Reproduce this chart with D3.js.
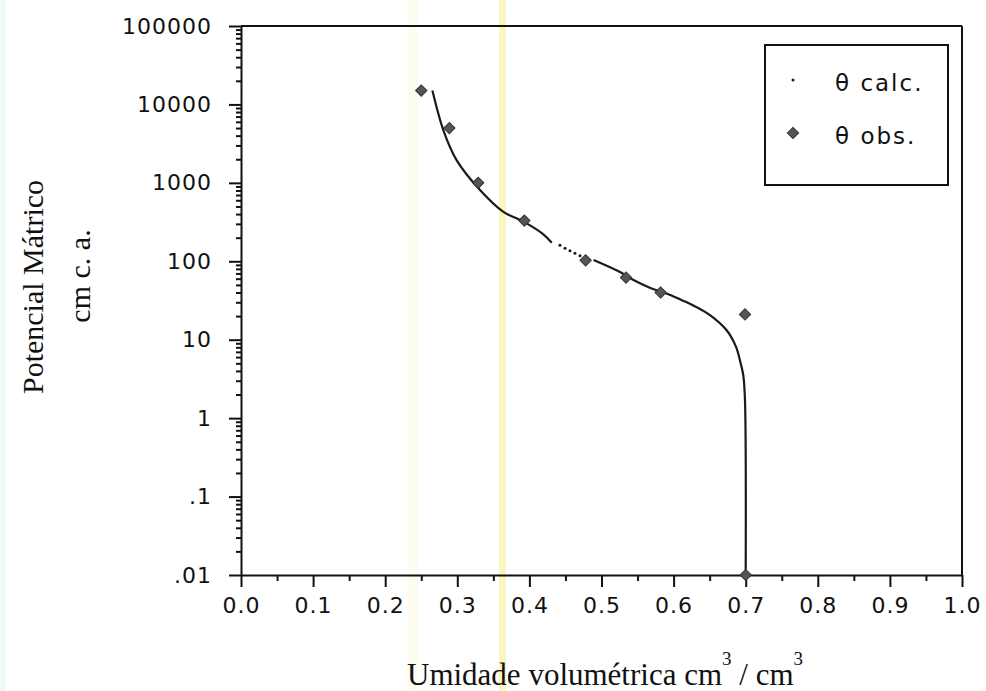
<!DOCTYPE html>
<html>
    <head>
        <meta charset="utf-8">
        <title> Potencial Mátrico </title>
        <script type="text/javascript" src="https://d3js.org/d3.v7.min.js"></script>
        <style>
            body {margin: 0; background: #fff;}
            svg {display: block;}
            .tick text {font-family: "DejaVu Sans", sans-serif; font-size: 22px; letter-spacing: 1px; fill: #111;}
            .domain, .tick line {stroke: #111; stroke-width: 2px;}
            .titre {font-family: "Liberation Serif", serif; fill: #111;}
            .leg {font-family: "DejaVu Sans", sans-serif; font-size: 23px; letter-spacing: 2px; fill: #111;}
        </style>
    </head>
    <body>
        <script>
            // Axes
            var xTickValues = [0, 0.1, 0.2, 0.3, 0.4, 0.5, 0.6, 0.7, 0.8, 0.9, 1.0];
            var xTickLabels = ["0.0", "0.1", "0.2", "0.3", "0.4", "0.5", "0.6", "0.7", "0.8", "0.9", "1.0"];
            var yTickValues = [0.01, 0.1, 1, 10, 100, 1000, 10000, 100000];
            var yTickLabels = [".01", ".1", "1", "10", "100", "1000", "10000", "100000"];

            // θ obs. (points)
            var obsTheta = [0.250, 0.289, 0.329, 0.393, 0.478, 0.534, 0.582, 0.699, 0.700];
            var obsPsi = [15000, 5000, 1000, 330, 103, 62, 40, 21, 0.01];

            // θ calc. : trait continu, puis quelques points isolés, puis trait continu
            var calcThetaA = [0.2655, 0.2806, 0.299, 0.3315, 0.3634, 0.3925, 0.419, 0.431];
            var calcPsiA = [15000, 4710, 1950, 810, 430, 318, 222, 172];
            var calcThetaDots = [0.4424, 0.4494, 0.4563, 0.4632, 0.4702];
            var calcPsiDots = [160, 147, 136, 127, 118];
            var calcThetaB = [0.489, 0.5257, 0.5437, 0.567, 0.5908, 0.613, 0.632, 0.6505, 0.6736, 0.6866, 0.693, 0.6967, 0.699, 0.700];
            var calcPsiB = [104, 73, 58, 46, 38.5, 31.5, 26, 20.6, 13.2, 8.1, 5.0, 3.5, 1.7, 0.01];

            var margin = {top: 26, right: 24, bottom: 116, left: 241};
            var W = 986, H = 691;
            var width = W - margin.left - margin.right,
                height = H - margin.top - margin.bottom;

            var svg = d3.select("body").append("svg")
                .attr("width", W)
                .attr("height", H);

            // petites traces du scan
            svg.append("rect").attr("x", 0).attr("y", 0).attr("width", 6).attr("height", H).attr("fill", "#eef9f8");
            svg.append("rect").attr("x", 408).attr("y", 0).attr("width", 10).attr("height", H).attr("fill", "#fefdf0");
            svg.append("rect").attr("x", 499).attr("y", 0).attr("width", 7).attr("height", H).attr("fill", "#fbf5c0");

            var canvas = svg.append("g")
                .attr("transform", "translate(" + margin.left + "," + margin.top + ")");

            var x = d3.scaleLinear().domain([0, 1]).range([0, width]);
            var y = d3.scaleLog().domain([0.01, 100000]).range([height, 0]);

            // cadre
            canvas.append("line").attr("x1", 0).attr("x2", width).attr("y1", 0).attr("y2", 0)
                .attr("stroke", "#111").attr("stroke-width", 2);
            canvas.append("line").attr("x1", width).attr("x2", width).attr("y1", 0).attr("y2", height)
                .attr("stroke", "#111").attr("stroke-width", 2);

            // graduations secondaires
            var xMinor = xTickValues.slice(0, 10).map(function(d) { return d + 0.05; });
            var yMinor = [];
            yTickValues.slice(0, 7).forEach(function(d) {
                for (var k = 2; k < 10; k++) yMinor.push(d * k);
            });

            canvas.append("g")
                .attr("transform", "translate(0," + height + ")")
                .call(d3.axisBottom(x).tickValues(xMinor).tickSize(6).tickFormat(""))
                .select(".domain").remove();

            canvas.append("g")
                .call(d3.axisLeft(y).tickValues(yMinor).tickSize(5).tickFormat(""))
                .select(".domain").remove();

            var xAxis = d3.axisBottom(x)
                .tickValues(xTickValues)
                .tickFormat(function(d, i) { return xTickLabels[i]; })
                .tickSize(12).tickSizeOuter(0).tickPadding(10);

            var yAxis = d3.axisLeft(y)
                .tickValues(yTickValues)
                .tickFormat(function(d, i) { return yTickLabels[i]; })
                .tickSize(12).tickSizeOuter(0).tickPadding(17);

            canvas.append("g")
                .attr("transform", "translate(0," + height + ")")
                .call(xAxis);

            canvas.append("g")
                .call(yAxis);

            // courbe calculée
            var line = d3.line()
                .x(function(d) { return x(d[0]); })
                .y(function(d) { return y(d[1]); })
                .curve(d3.curveCatmullRom.alpha(0.5));

            canvas.append("path")
                .datum(d3.zip(calcThetaA, calcPsiA))
                .attr("d", line)
                .attr("fill", "none").attr("stroke", "#1a1a1a").attr("stroke-width", 2.2);

            canvas.append("path")
                .datum(d3.zip(calcThetaB, calcPsiB))
                .attr("d", line)
                .attr("fill", "none").attr("stroke", "#1a1a1a").attr("stroke-width", 2.2);

            canvas.selectAll(".calcdot")
                .data(d3.zip(calcThetaDots, calcPsiDots))
                .enter()
                .append("circle")
                .attr("class", "calcdot")
                .attr("cx", function(d) { return x(d[0]); })
                .attr("cy", function(d) { return y(d[1]); })
                .attr("r", 1.5)
                .attr("fill", "#1a1a1a");

            // points observés
            var diamond = d3.symbol().type(d3.symbolSquare).size(64);
            canvas.selectAll(".obs")
                .data(d3.zip(obsTheta, obsPsi))
                .enter()
                .append("path")
                .attr("class", "obs")
                .attr("d", diamond)
                .attr("transform", function(d) {
                    return "translate(" + x(d[0]) + "," + y(d[1]) + ") rotate(45)";
                })
                .attr("fill", "#555")
                .attr("stroke", "#333")
                .attr("stroke-width", 1);

            // légende
            var lx = 765 - margin.left, ly = 45 - margin.top;
            var legend = canvas.append("g").attr("transform", "translate(" + lx + "," + ly + ")");
            legend.append("rect")
                .attr("width", 183).attr("height", 140)
                .attr("fill", "#fff").attr("stroke", "#111").attr("stroke-width", 2);
            legend.append("circle").attr("cx", 28).attr("cy", 35).attr("r", 1.5).attr("fill", "#1a1a1a");
            legend.append("text").attr("class", "leg").attr("x", 70).attr("y", 46).text("θ calc.");
            legend.append("path").attr("d", diamond)
                .attr("transform", "translate(28,88) rotate(45)")
                .attr("fill", "#555").attr("stroke", "#333").attr("stroke-width", 1);
            legend.append("text").attr("class", "leg").attr("x", 70).attr("y", 99).text("θ obs.");

            // titres des axes
            svg.append("text")
                .attr("class", "titre")
                .attr("transform", "translate(43,287) rotate(-90)")
                .attr("text-anchor", "middle")
                .attr("font-size", "30px")
                .text("Potencial Mátrico");

            svg.append("text")
                .attr("class", "titre")
                .attr("transform", "translate(90,276) rotate(-90)")
                .attr("text-anchor", "middle")
                .attr("font-size", "30px")
                .text("cm c. a.");

            var xt = svg.append("text")
                .attr("class", "titre")
                .attr("x", 407).attr("y", 685)
                .attr("font-size", "31px");
            xt.append("tspan").text("Umidade volumétrica cm");
            xt.append("tspan").attr("dy", -20).attr("font-size", "19px").text("3");
            xt.append("tspan").attr("dy", 20).text(" / cm");
            xt.append("tspan").attr("dy", -20).attr("font-size", "19px").text("3");
        </script>
    </body>
</html>
